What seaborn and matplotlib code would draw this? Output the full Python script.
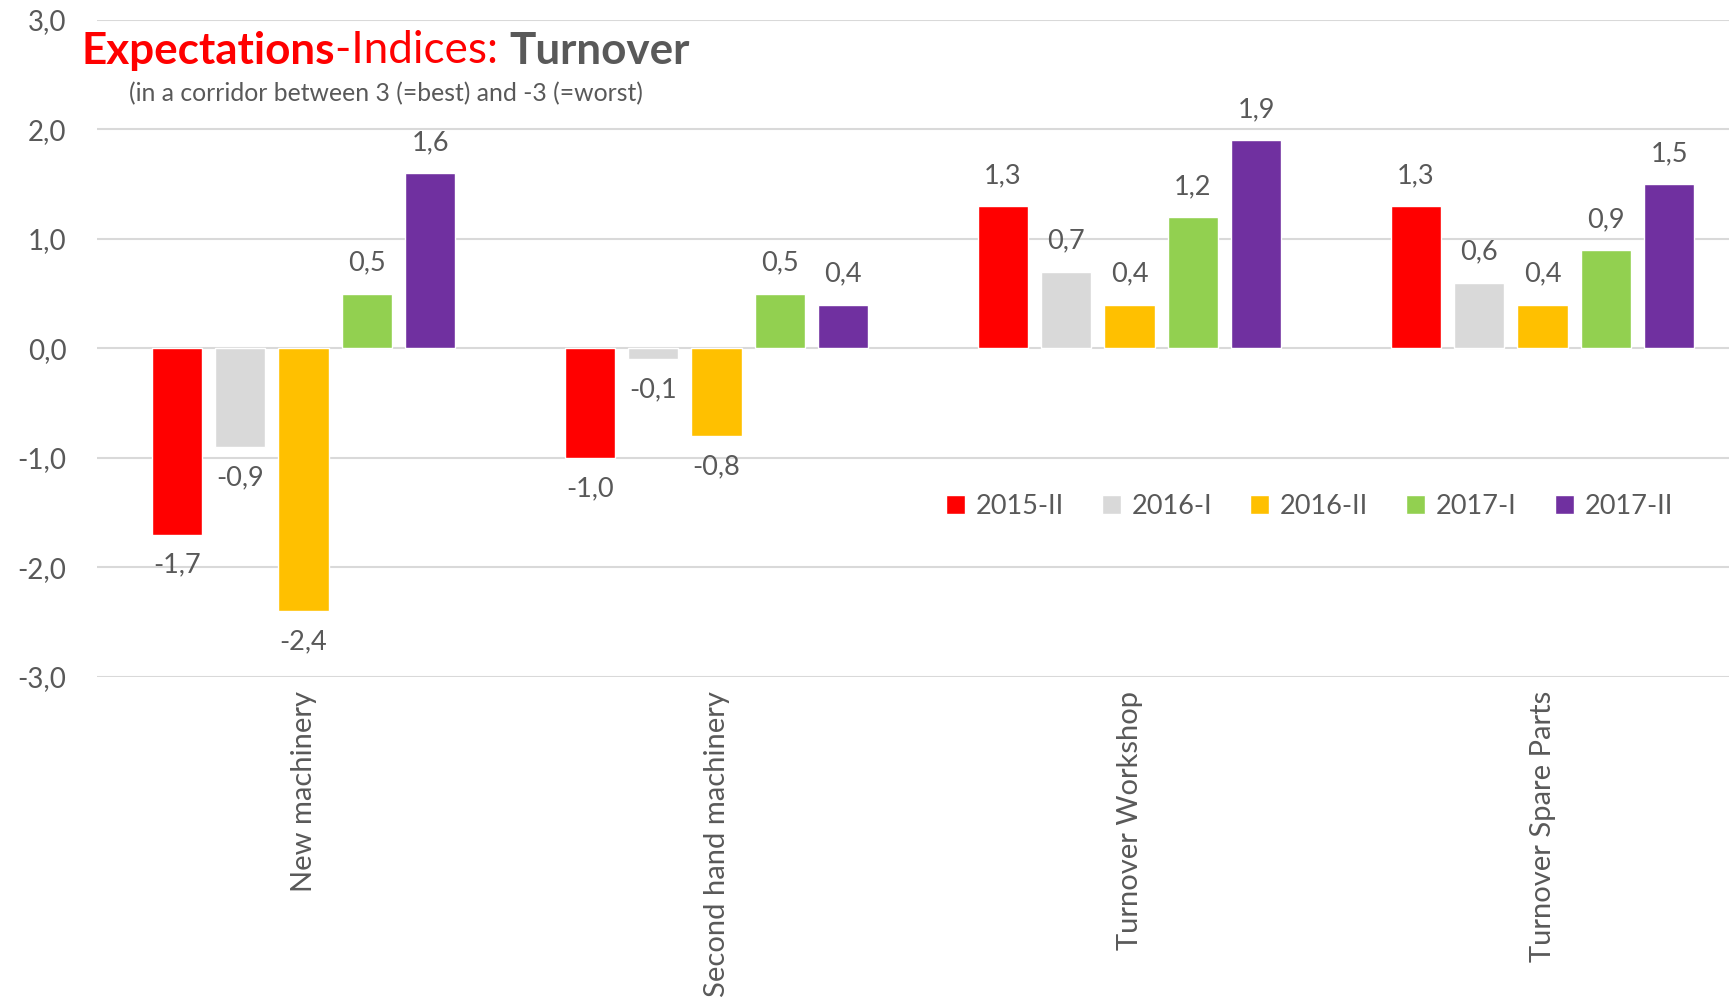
import pandas as pd
import matplotlib.pyplot as plt
import seaborn as sns

categories = ['New machinery', 'Second hand machinery', 'Turnover Workshop', 'Turnover Spare Parts']
periods = ['2015-II', '2016-I', '2016-II', '2017-I', '2017-II']
vals_2015_2 = [-1.7, -1.0, 1.3, 1.3]
vals_2016_1 = [-0.9, -0.1, 0.7, 0.6]
vals_2016_2 = [-2.4, -0.8, 0.4, 0.4]
vals_2017_1 = [0.5, 0.5, 1.2, 0.9]
vals_2017_2 = [1.6, 0.4, 1.9, 1.5]
colors = ['#FF0000', '#D9D9D9', '#FFC000', '#92D050', '#7030A0']

series = [vals_2015_2, vals_2016_1, vals_2016_2, vals_2017_1, vals_2017_2]
rows = []
for p, vals in zip(periods, series):
    for c, v in zip(categories, vals):
        rows.append({'category': c, 'period': p, 'value': v})
df = pd.DataFrame(rows)

sns.set_style('white')
plt.rcParams['font.family'] = ['Lato', 'DejaVu Sans']
grey = '#595959'

fig = plt.figure(figsize=(17.29, 10.05), dpi=100)
ax = fig.add_axes([0.0561, 0.3264, 0.9555, 0.6537])

sns.barplot(data=df, x='category', y='value', hue='period', palette=colors,
            hue_order=periods, order=categories, width=0.768, gap=0.21,
            saturation=1, errorbar=None, ax=ax, zorder=3)

for cont in ax.containers:
    labels = [f'{b.get_height():.1f}'.replace('.', ',') for b in cont]
    ax.bar_label(cont, labels=labels, padding=13, fontsize=19.5, color=grey)

ax.set_ylim(-3, 3)
ax.set_xlim(-0.5, 3.5)
ticks = [-3, -2, -1, 0, 1, 2, 3]
ax.set_yticks(ticks)
ax.set_yticklabels([f'{t:.1f}'.replace('.', ',') for t in ticks])
ax.yaxis.grid(True, color='#D9D9D9', linewidth=1.5, zorder=0)
ax.set_axisbelow(True)
for s in ax.spines.values():
    s.set_visible(False)
ax.tick_params(axis='y', length=0, pad=22, labelsize=20, labelcolor=grey)
ax.tick_params(axis='x', length=0, pad=10, labelsize=21, labelcolor=grey, rotation=90)
ax.set_xlabel('')
ax.set_ylabel('')

ax.legend(ncol=5, frameon=False, loc='center left', bbox_to_anchor=(0.533, 0.4965),
          bbox_transform=fig.transFigure, fontsize=19.5, labelcolor=grey,
          handlelength=0.7, handleheight=0.7, handletextpad=0.4, columnspacing=1.4)

t1 = fig.text(0.047, 0.949, 'Expectations', fontsize=31.7, fontweight='bold', color='#FF0000', va='center')
t2 = ax.annotate('-Indices: ', xycoords=t1, xy=(1, 0), va='bottom', fontsize=31.7, color='#FF0000')
ax.annotate('Turnover', xycoords=t2, xy=(1, 0), va='bottom', fontsize=31.7, fontweight='bold', color=grey)
fig.text(0.0745, 0.907, '(in a corridor between 3 (=best) and -3 (=worst)', fontsize=17.8, color=grey, va='center')

fig.savefig('out.png', dpi=100)
